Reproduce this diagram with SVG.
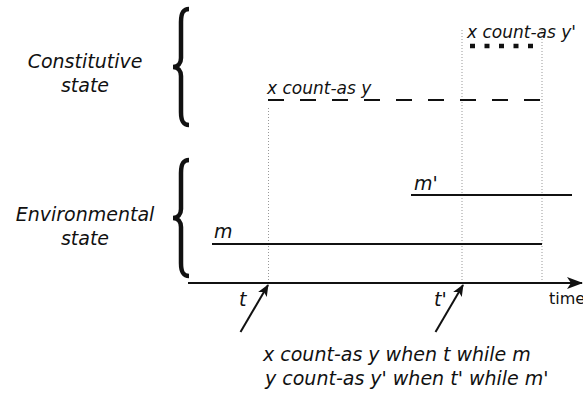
<svg xmlns="http://www.w3.org/2000/svg" width="583" height="396" viewBox="0 0 583 396">
<style>
.lbl{font-family:"DejaVu Sans",sans-serif;font-style:italic;font-size:19px;fill:#111}
.sm{font-family:"DejaVu Sans",sans-serif;font-style:italic;font-size:17px;fill:#111}
.up{font-family:"DejaVu Sans",sans-serif;font-size:16px;fill:#111}
.brace{fill:none;stroke:#111;stroke-width:4.5}
.guide{stroke:#999;stroke-width:1;stroke-dasharray:1 2;fill:none}
.line{stroke:#111;stroke-width:2;fill:none}
</style>
<defs>
<marker id="ah" viewBox="0 0 12 10" refX="11" refY="5" markerWidth="12" markerHeight="10" markerUnits="userSpaceOnUse" orient="auto">
<path d="M0,0 L12,5 L0,10 L3,5 Z" fill="#111"/>
</marker>
<marker id="ah2" viewBox="0 0 16 12" refX="15" refY="6" markerWidth="16" markerHeight="12" markerUnits="userSpaceOnUse" orient="auto">
<path d="M0,0 L16,6 L0,12 L4,6 Z" fill="#111"/>
</marker>
</defs>
<g id="constitutive-label">
<text class="lbl" x="85" y="68" text-anchor="middle">Constitutive</text>
<text class="lbl" x="85" y="92" text-anchor="middle">state</text>
<path class="brace" d="M189,9 C183,9 181,13 181,22 L181,58 C181,63 178,67 173,67 C178,67 181,71 181,76 L181,112 C181,121 183,125 189,125"/>
</g>
<g id="environmental-label">
<text class="lbl" x="85" y="220.5" text-anchor="middle">Environmental</text>
<text class="lbl" x="85" y="244.5" text-anchor="middle">state</text>
<path class="brace" d="M189,160 C183,160 181,164 181,173 L181,209 C181,214 178,218 173,218 C178,218 181,222 181,227 L181,263 C181,272 183,276 189,276"/>
</g>
<g id="guides">
<line class="guide" x1="268.5" y1="108" x2="268.5" y2="283"/>
<line class="guide" x1="462" y1="30" x2="462" y2="283"/>
<line class="guide" x1="542" y1="30" x2="542" y2="283"/>
</g>
<g id="x-count-as-y">
<line x1="268" y1="100" x2="542" y2="100" stroke="#111" stroke-width="2" stroke-dasharray="16 16"/>
<text class="sm" x="267" y="94">x count-as y</text>
</g>
<g id="x-count-as-y-prime">
<line x1="470" y1="46" x2="540" y2="46" stroke="#111" stroke-width="4.5" stroke-dasharray="5 9.5"/>
<text class="sm" x="467" y="38">x count-as y'</text>
</g>
<g id="m">
<line class="line" x1="212" y1="244" x2="542" y2="244"/>
<text class="lbl" x="214" y="238">m</text>
</g>
<g id="m-prime">
<line class="line" x1="411" y1="195" x2="572" y2="195"/>
<text class="lbl" x="414" y="190">m'</text>
</g>
<g id="time-axis">
<line class="line" x1="188" y1="283" x2="582" y2="283" marker-end="url(#ah2)"/>
<text class="up" x="549" y="304">time</text>
</g>
<g id="connectors">
<line class="line" x1="240.5" y1="332" x2="268" y2="285" marker-end="url(#ah)"/>
<line class="line" x1="435.5" y1="332" x2="463" y2="285" marker-end="url(#ah)"/>
</g>
<g id="t-labels">
<text class="lbl" x="239" y="306">t</text>
<text class="lbl" x="434" y="306">t'</text>
</g>
<g id="rules">
<text class="lbl" x="263" y="361">x count-as y when t while m</text>
<text class="lbl" x="265" y="385">y count-as y' when t' while m'</text>
</g>
</svg>
